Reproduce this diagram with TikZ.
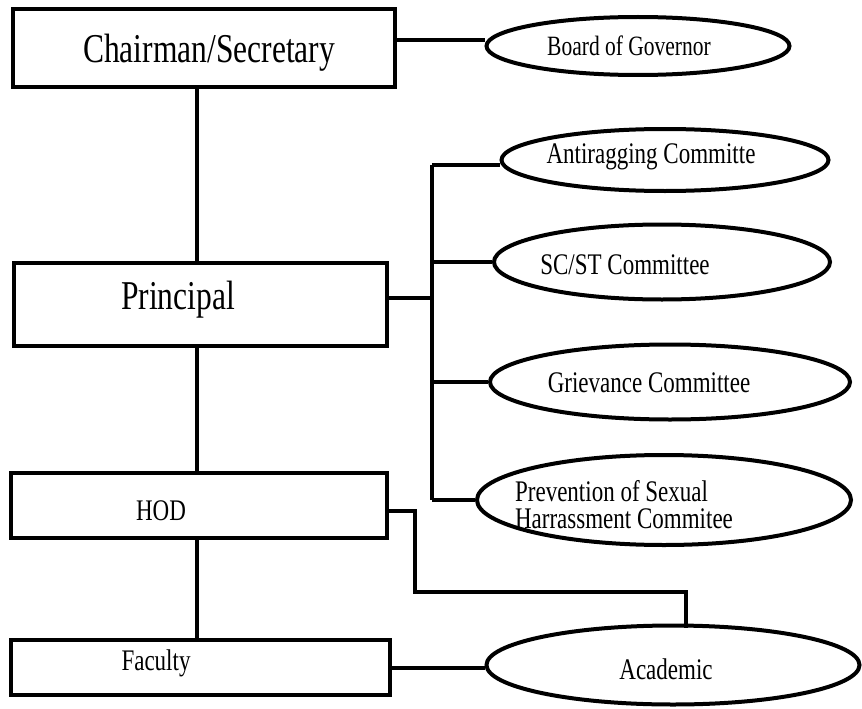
\documentclass[tikz,border=0pt]{standalone}
\usepackage{fontspec}
\setmainfont{Liberation Serif}
\usetikzlibrary{shapes.geometric}
\begin{document}
\begin{tikzpicture}[x=1pt,y=-1pt,
  line width=4pt,
  boxnode/.style={draw, rectangle, inner sep=0pt},
  ellnode/.style={draw, ellipse, inner sep=0pt},
  bigtext/.style={font=\fontsize{31.5}{34}\selectfont},
  smalltext/.style={font=\fontsize{23}{27}\selectfont, align=left, inner sep=0pt},
  wire/.style={line width=3.8pt}]
\useasboundingbox (0,0) rectangle (862,709);
% boxes
\node[boxnode, minimum width=382pt, minimum height=78pt] (chair) at (204,48) {};
\node[bigtext] (chairT) at (209,53) {\scalebox{1}[1.3]{Chairman/Secretary}};
\node[boxnode, minimum width=373pt, minimum height=83pt] (prin) at (200,304) {};
\node[bigtext] (prinT) at (178,300) {\scalebox{1}[1.3]{Principal}};
\node[boxnode, minimum width=376pt, minimum height=65pt] (hod) at (199,505) {};
\node[smalltext] (hodT) at (161,511) {\scalebox{1}[1.3]{HOD}};
\node[boxnode, minimum width=379pt, minimum height=55pt] (fac) at (200,667) {};
\node[smalltext] (facT) at (156,663) {\scalebox{1}[1.3]{Faculty}};
% ellipses
\node[ellnode, minimum width=303pt, minimum height=58pt] (board) at (638,46) {};
\node[smalltext] (boardT) at (629,46) {\scalebox{1}[1.3]{\fontsize{21.5}{25}\selectfont Board of Governor}};
\node[ellnode, minimum width=327pt, minimum height=62pt] (anti) at (665,160) {};
\node[smalltext] (antiT) at (651,157) {\scalebox{1}[1.3]{Antiragging Committe}};
\node[ellnode, minimum width=336pt, minimum height=75pt] (scst) at (662,262) {};
\node[smalltext] (scstT) at (625,265) {\scalebox{1}[1.3]{SC/ST Committee}};
\node[ellnode, minimum width=360pt, minimum height=75pt] (griev) at (670,382) {};
\node[smalltext] (grievT) at (649,383) {\scalebox{1}[1.3]{Grievance Committee}};
\node[ellnode, minimum width=374pt, minimum height=90pt] (prev) at (664,500) {};
\node[smalltext] (prevT) at (624,508) {\scalebox{1}[1.3]{\begin{tabular}{@{}l@{}}Prevention of Sexual\\[-6pt]Harrassment Commitee\end{tabular}}};
\node[ellnode, minimum width=373pt, minimum height=79pt] (acad) at (673,665) {};
\node[smalltext] (acadT) at (666,669) {\scalebox{1}[1.3]{Academic}};
% helper coordinates
\coordinate (vx) at (197,0);
\coordinate (bx) at (432,0);
\coordinate (hx) at (415,0);
\coordinate (ax) at (686,592);
% connectors
\draw[wire] (chair.east |- 0,40) -- (board.west |- 0,40);
\draw[wire] (chair.south -| vx) -- (prin.north -| vx);
\draw[wire] (prin.south -| vx) -- (hod.north -| vx);
\draw[wire] (hod.south -| vx) -- (fac.north -| vx);
\draw[wire] (prin.east |- 0,298) -- (bx |- 0,298);
\draw[wire] (bx |- 0,165) -- (bx |- 0,500);
\draw[wire] (bx |- 0,165) -- (anti.west |- 0,165);
\draw[wire] (bx |- scst.west) -- (scst.west);
\draw[wire] (bx |- griev.west) -- (griev.west);
\draw[wire] (bx |- prev.west) -- (prev.west);
\draw[wire] (hod.east |- 0,511) -- (hx |- 0,511) -- (hx |- ax) -- (ax) -- (ax |- 0,628);
\draw[wire] (fac.east |- 0,668) -- (acad.west |- 0,668);
\end{tikzpicture}
\end{document}
